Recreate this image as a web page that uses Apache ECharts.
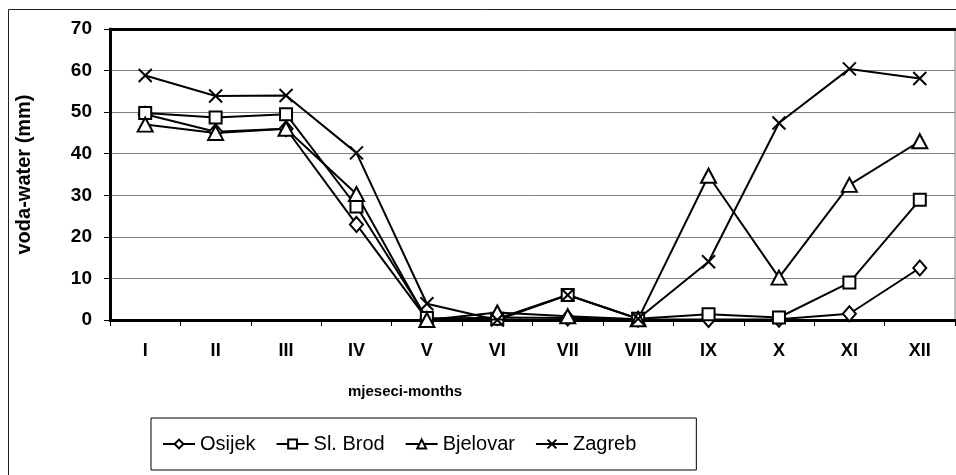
<!DOCTYPE html>
<html>
<head>
<meta charset="utf-8">
<script src="https://cdn.jsdelivr.net/npm/echarts@6/dist/echarts.min.js"></script>
<style>
  html, body { margin: 0; padding: 0; background: #fff; }
  #chart { width: 956px; height: 475px; }
</style>
</head>
<body>
<div id="chart"></div>
<script>
// Monthly water amounts (mm) for four stations
const months = ['I', 'II', 'III', 'IV', 'V', 'VI', 'VII', 'VIII', 'IX', 'X', 'XI', 'XII'];
const osijek   = [49.5, 45.3, 46.0, 23.0, 0.2, 0.6, 0.5, 0.2, 0.1, 0.2, 1.5, 12.5];
const slBrod   = [49.8, 48.7, 49.5, 27.3, 0.5, 0.3, 6.0, 0.3, 1.4, 0.6, 9.0, 28.9];
const bjelovar = [47.0, 45.0, 46.0, 30.3, 0.0, 1.8, 0.9, 0.2, 34.7, 10.2, 32.5, 43.0];
const zagreb   = [58.8, 53.9, 54.0, 40.2, 3.9, 0.0, 6.0, 0.3, 14.0, 47.4, 60.4, 58.1];
const yTicks = { min: 0, max: 70, step: 10 };

const FONT = 'Arial, "Liberation Sans", sans-serif';
const crossPath = 'path://M0,0L10,10M10,0L0,10';

function station(name, data, symbol, size) {
  return {
    name: name,
    type: 'line',
    data: data,
    symbol: symbol,
    symbolSize: size,
    showAllSymbol: true,
    lineStyle: { color: '#000', width: 2 },
    itemStyle: { color: '#fff', borderColor: '#000', borderWidth: 2 },
    emphasis: { disabled: true },
    z: 3
  };
}

const chart = echarts.init(document.getElementById('chart'), null, { renderer: 'canvas' });
chart.setOption({
  animation: false,
  backgroundColor: '#fff',
  textStyle: { fontFamily: FONT, color: '#000' },
  title: {
    text: 'mjeseci-months',
    left: 348,
    top: 384,
    padding: 0,
    textStyle: { fontFamily: FONT, fontSize: 15, fontWeight: 'bold', color: '#000' }
  },
  grid: {
    left: 110, top: 29, right: 1, bottom: 155,
    show: true, borderColor: '#808080', borderWidth: 1
  },
  legend: {
    left: 151,
    top: 418,
    orient: 'horizontal',
    padding: [16, 60, 16, 11],
    itemGap: 20,
    itemWidth: 32,
    itemHeight: 11,
    borderColor: '#000',
    borderWidth: 1,
    textStyle: { fontFamily: FONT, fontSize: 20, color: '#000' },
    data: ['Osijek', 'Sl. Brod', 'Bjelovar', 'Zagreb']
  },
  xAxis: [{
    type: 'category',
    data: months,
    boundaryGap: true,
    axisLine: { lineStyle: { color: '#000', width: 3 } },
    axisTick: { show: true, length: 6, lineStyle: { color: '#000', width: 1 } },
    axisLabel: { fontFamily: FONT, fontSize: 18, fontWeight: 'bold', color: '#000', margin: 22 },
    splitLine: { show: false }
  }, {
    type: 'category',
    data: months,
    position: 'top',
    axisLine: { lineStyle: { color: '#000', width: 3 } },
    axisTick: { show: false },
    axisLabel: { show: false },
    splitLine: { show: false }
  }],
  yAxis: {
    type: 'value',
    min: yTicks.min,
    max: yTicks.max,
    interval: yTicks.step,
    name: 'voda-water (mm)',
    nameLocation: 'middle',
    nameGap: 76,
    nameTextStyle: { fontFamily: FONT, fontSize: 20, fontWeight: 'bold', color: '#000' },
    axisLine: { show: true, lineStyle: { color: '#000', width: 3 } },
    axisTick: { show: true, length: 6, lineStyle: { color: '#000', width: 1 } },
    axisLabel: { fontFamily: FONT, fontSize: 19, fontWeight: 'bold', color: '#000', margin: 18 },
    splitLine: { show: true, lineStyle: { color: '#808080', width: 1 } }
  },
  graphic: [{
    type: 'rect',
    silent: true,
    shape: { x: 8.5, y: 9.5, width: 1000, height: 1000 },
    style: { fill: null, stroke: '#222', lineWidth: 1 },
    z: -1
  }],
  series: [
    station('Osijek', osijek, 'diamond', [13, 15]),
    station('Sl. Brod', slBrod, 'rect', 12),
    station('Bjelovar', bjelovar, 'triangle', [15, 14]),
    station('Zagreb', zagreb, crossPath, 13)
  ]
});
</script>
</body>
</html>
